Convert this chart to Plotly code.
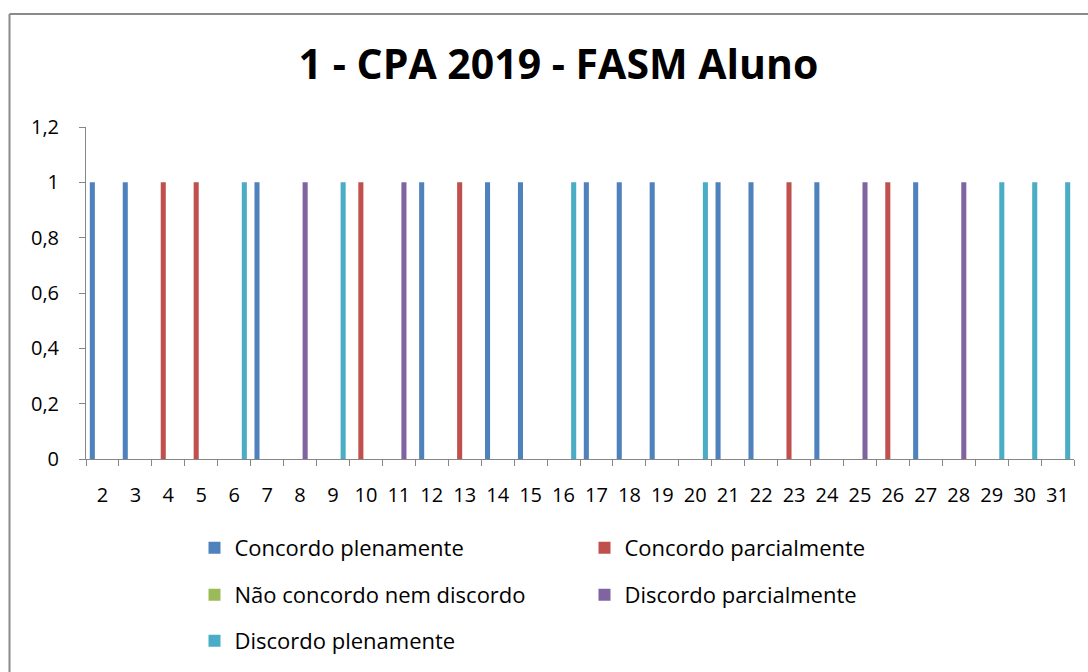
import plotly.graph_objects as go

categories = [str(i) for i in range(2, 32)]

series_names = [
    "Concordo plenamente",
    "Concordo parcialmente",
    "Não concordo nem discordo",
    "Discordo parcialmente",
    "Discordo plenamente",
]
series_colors = ["#4F81BD", "#C0504D", "#9BBB59", "#8064A2", "#4BACC6"]

concordo_plenamente_cats = ["2", "3", "7", "12", "14", "15", "17", "18", "19", "21", "22", "24", "27"]
concordo_parcialmente_cats = ["4", "5", "10", "13", "23", "26"]
nao_concordo_cats = []
discordo_parcialmente_cats = ["8", "11", "25", "28"]
discordo_plenamente_cats = ["6", "9", "16", "20", "29", "30", "31"]

series_cats = [
    concordo_plenamente_cats,
    concordo_parcialmente_cats,
    nao_concordo_cats,
    discordo_parcialmente_cats,
    discordo_plenamente_cats,
]

y_tickvals = [0, 0.2, 0.4, 0.6, 0.8, 1.0, 1.2]
y_ticktext = ["0", "0,2", "0,4", "0,6", "0,8", "1", "1,2"]

FONT = "Open Sans"
AXIS_COLOR = "#868686"

W, H = 1088, 672
PL, PR, PT, PB = 86, 1074, 127, 459  # plot area in px
PW, PH = PR - PL, PB - PT

fig = go.Figure()
legend_ids = ["legend", "legend", "legend2", "legend2", "legend3"]
for name, color, cats, lg in zip(series_names, series_colors, series_cats, legend_ids):
    vals = [1 if c in cats else None for c in categories]
    fig.add_trace(go.Bar(
        x=categories, y=vals, name=name,
        marker=dict(color=color, line=dict(width=0)),
        legend=lg,
    ))

legend_common = dict(
    orientation="h",
    xref="container", yref="container",
    xanchor="left", yanchor="middle",
    x=194.5 / W,
    entrywidth=345, entrywidthmode="pixels",
    font=dict(family=FONT, size=22, color="#000000"),
    bgcolor="rgba(0,0,0,0)",
    itemclick=False, itemdoubleclick=False,
)

border_x0 = (9.5 - PL) / PW
border_x1 = (W + 20 - PL) / PW
border_y0 = (PB - (H + 20)) / PH
border_y1 = (PB - 14) / PH
border_line = dict(color="#8A8A8A", width=2)

fig.update_layout(
    width=W, height=H,
    margin=dict(l=PL, r=W - PR, t=PT, b=H - PB),
    paper_bgcolor="white", plot_bgcolor="white",
    barmode="group", bargap=0.2308, bargroupgap=0,
    title=dict(
        text="<b>1 - CPA 2019 - FASM Aluno</b>",
        x=558.5 / W, xanchor="center", xref="container",
        y=1 - 65 / H, yanchor="middle", yref="container",
        font=dict(family=FONT, size=41, color="#000000"),
    ),
    font=dict(family=FONT, color="#000000"),
    showlegend=True,
    legend=dict(legend_common, y=1 - 548 / H),
    legend2=dict(legend_common, y=1 - 595 / H),
    legend3=dict(legend_common, y=1 - 641 / H),
    xaxis=dict(
        type="category",
        categoryorder="array", categoryarray=categories,
        showline=True, linecolor=AXIS_COLOR, linewidth=1,
        ticks="outside", tickson="boundaries", ticklen=6,
        tickcolor=AXIS_COLOR, tickwidth=1,
        tickfont=dict(family=FONT, size=20, color="#000000"),
        ticklabelstandoff=18,
        showgrid=False, zeroline=False, fixedrange=True,
    ),
    yaxis=dict(
        range=[0, 1.2],
        tickvals=y_tickvals, ticktext=y_ticktext,
        showline=True, linecolor=AXIS_COLOR, linewidth=1,
        ticks="outside", ticklen=6, tickcolor=AXIS_COLOR, tickwidth=1,
        tickfont=dict(family=FONT, size=20, color="#000000"),
        ticklabelstandoff=16,
        showgrid=False, zeroline=False, fixedrange=True,
    ),
    shapes=[
        dict(type="line", xref="paper", yref="paper",
             x0=border_x0, x1=border_x1, y0=border_y1, y1=border_y1,
             line=border_line, layer="below"),
        dict(type="line", xref="paper", yref="paper",
             x0=border_x0, x1=border_x0, y0=border_y0, y1=border_y1,
             line=border_line, layer="below"),
    ],
)

page_css = (
    "document.documentElement.style.overflow='hidden';"
    "document.body.style.margin='0';"
    "document.body.style.overflow='hidden';"
)

fig.write_html("out.html", config={"displayModeBar": False}, post_script=page_css)
